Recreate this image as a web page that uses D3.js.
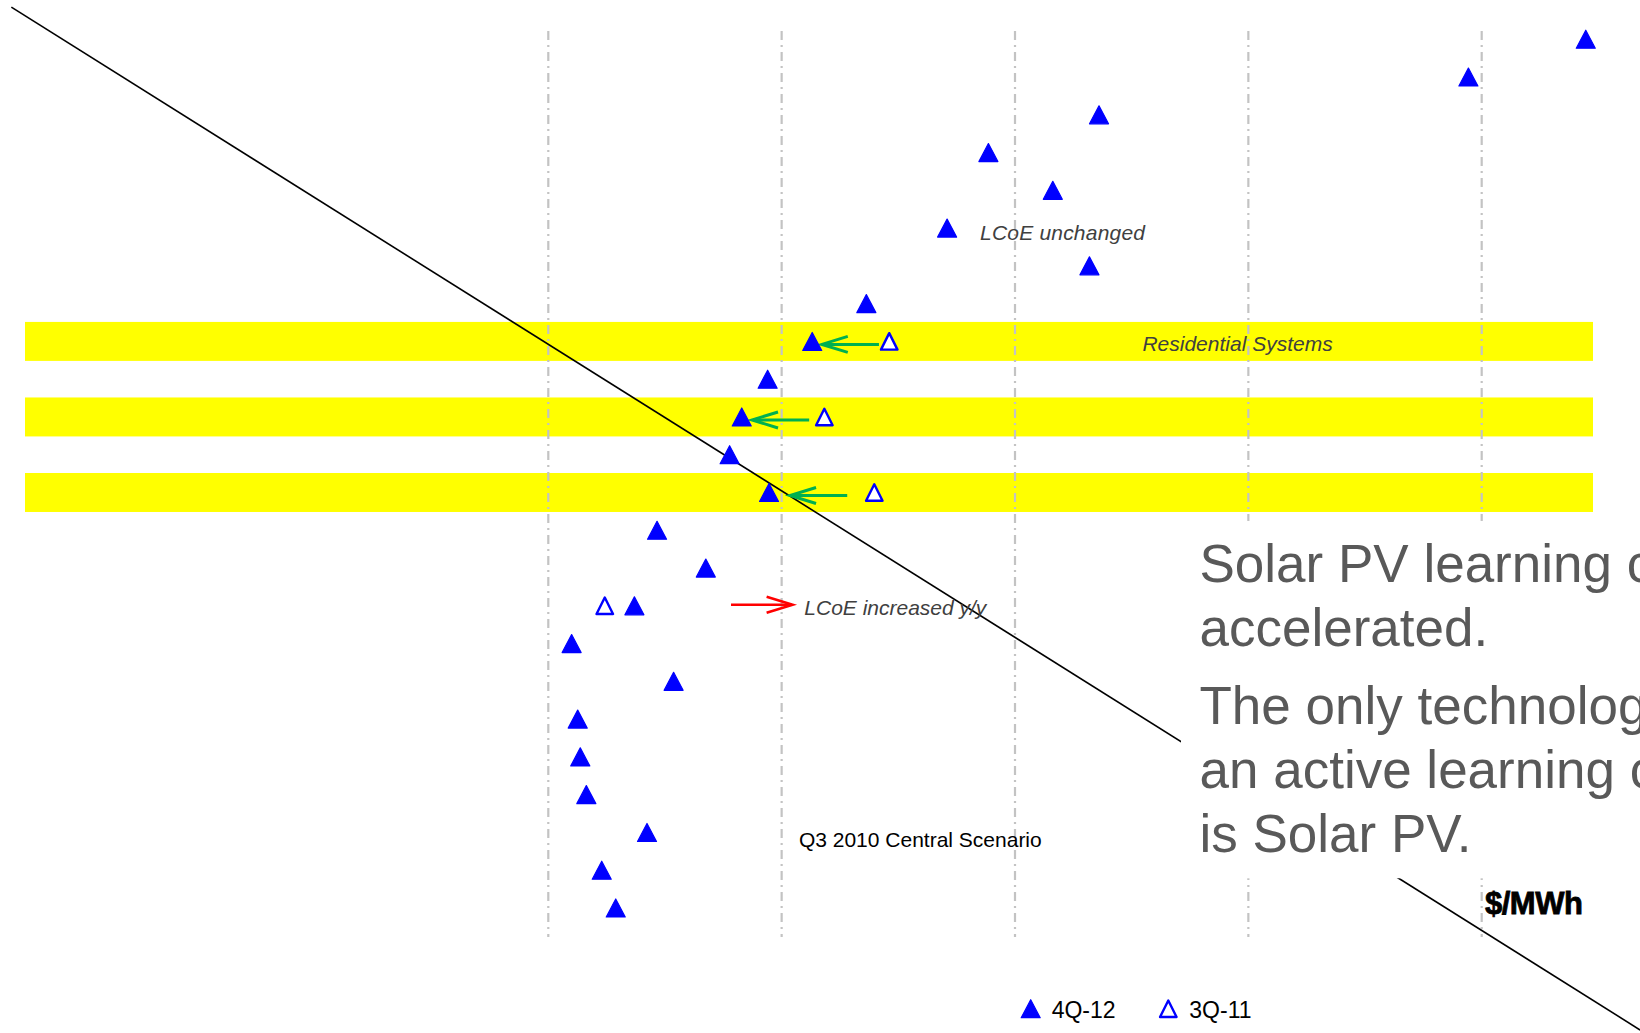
<!DOCTYPE html>
<html>
<head>
<meta charset="utf-8">
<script src="https://cdn.jsdelivr.net/npm/d3@7"></script>
<style>
  html, body { margin: 0; padding: 0; background: #fff; }
  svg { display: block; }
</style>
</head>
<body>
<svg id="chart" width="1640" height="1033"></svg>
<script>
// ---- data -------------------------------------------------------------
// One key per technology row, top to bottom (row labels are not shown)
const rows = ["1","2","3","4","5","6","7","8","9","10","11","12",
              "13","14","15","16","17","18","19","20","21","22","23","24"];

// Levelised cost of energy, 4Q-12 ($/MWh), one value per row
const lcoe4Q12 = [444.6, 394.3, 236.0, 188.6, 216.2, 170.9, 231.9, 136.3,
                  113.1, 94.0, 82.9, 77.7, 94.6, 46.6, 67.5, 36.9,
                  10.0, 53.7, 12.6, 13.7, 16.3, 42.3, 22.9, 28.9];

// Earlier 3Q-11 estimates, only for rows that moved
const prevRows = ["9", "11", "13", "16"];
const lcoe3Q11 = [146.1, 118.3, 139.7, 24.2];

// Rows highlighted as residential systems
const highlightRows = ["9", "11", "13"];

// Change arrows: row, from value, to value
const shiftRows  = ["9", "11", "13"];
const shiftFrom  = [141.7, 111.8, 128.1];
const shiftTo    = [117.2, 87.3, 103.6];
const riseRow = "16", riseFrom = 78.3, riseTo = 104.7;

// Q3 2010 central scenario line: [value, row position]
const centralScenario = [[-230.1, -0.85], [467.9, 26.23]];

const gridTicks = [0, 100, 200, 300, 400];
const legendLabels = ["4Q-12", "3Q-11"];

const noteLines = [
  ["Solar PV learning curve has", "accelerated."],
  ["The only technology with", "an active learning curve", "is Solar PV."]
];

// ---- layout -----------------------------------------------------------
const W = 1640, H = 1033;
const svg = d3.select("#chart");
const FONT = "'Liberation Sans', Arial, Helvetica, sans-serif";

const x = d3.scaleLinear().domain([0, 400]).range([548.3, 1481.7]);
const y = d3.scalePoint().domain(rows).range([39.25, 907.96]);
const rowPos = d3.scaleLinear().domain([0, rows.length - 1]).range([39.25, 907.96]);
const step = y.step();

const bandLeft = 25, bandRight = 1593;
const gridTop = 31, gridBottom = 937;

svg.append("rect").attr("width", W).attr("height", H).attr("fill", "#fff");

// highlight bands
svg.append("g").selectAll("rect").data(highlightRows).join("rect")
  .attr("x", bandLeft)
  .attr("y", d => y(d) - step / 2 - 0.6)
  .attr("width", bandRight - bandLeft)
  .attr("height", step + 1.2)
  .attr("fill", "#ffff00");

// vertical dash-dot gridlines
svg.append("g").selectAll("line").data(gridTicks).join("line")
  .attr("x1", d => x(d)).attr("x2", d => x(d))
  .attr("y1", gridTop).attr("y2", gridBottom)
  .attr("stroke", "#c3c3c3")
  .attr("stroke-width", 2.2)
  .attr("stroke-dasharray", "9,5,2,5");

// central scenario line
svg.append("path")
  .datum(centralScenario)
  .attr("d", d3.line().x(d => x(d[0])).y(d => rowPos(d[1])))
  .attr("fill", "none")
  .attr("stroke", "#000")
  .attr("stroke-width", 1.6);

// arrows
function arrow(g, x1, x2, yy, color, sw) {
  const dir = Math.sign(x2 - x1);
  g.append("line")
    .attr("x1", x1).attr("x2", x2 - dir * 1).attr("y1", yy).attr("y2", yy)
    .attr("stroke", color).attr("stroke-width", sw);
  g.append("path")
    .attr("d", `M${x2 - dir * 26},${yy - 8}L${x2},${yy}L${x2 - dir * 26},${yy + 8}`)
    .attr("fill", "none").attr("stroke", color).attr("stroke-width", sw)
    .attr("stroke-linejoin", "miter");
}
const arrows = svg.append("g");
shiftRows.forEach((r, i) => arrow(arrows, x(shiftFrom[i]), x(shiftTo[i]), y(r) + 3, "#00b050", 3));
arrow(arrows, x(riseFrom), x(riseTo), y(riseRow) - 1, "#ff0000", 2.6);

// triangle marker path centred on (cx, cy)
function tri(cx, cy, w, h) {
  return `M${cx},${cy - h / 2}L${cx + w / 2},${cy + h / 2}L${cx - w / 2},${cy + h / 2}Z`;
}

// 3Q-11 (open)
svg.append("g").selectAll("path").data(prevRows).join("path")
  .attr("d", (r, i) => tri(x(lcoe3Q11[i]), y(r), 16.5, 16.5))
  .attr("fill", "#fff")
  .attr("stroke", "#0000ff")
  .attr("stroke-width", 2.4)
  .attr("stroke-linejoin", "round");

// 4Q-12 (filled)
svg.append("g").selectAll("path").data(rows).join("path")
  .attr("d", (r, i) => tri(x(lcoe4Q12[i]), y(r), 19, 18))
  .attr("fill", "#0000ff")
  .attr("stroke", "#0000ff")
  .attr("stroke-width", 1.2)
  .attr("stroke-linejoin", "round");

// annotations
const notes = [
  { text: "LCoE unchanged", row: "6", value: 185.0, dy: 12, italic: true, len: 165 },
  { text: "Residential Systems", row: "9", value: 254.6, dy: 10, italic: true },
  { text: "LCoE increased y/y", row: "16", value: 109.7, dy: 9, italic: true },
  { text: "Q3 2010 Central Scenario", row: "22", value: 107.4, dy: 15, italic: false }
];
svg.append("g").selectAll("text").data(notes).join("text")
  .attr("x", d => x(d.value))
  .attr("y", d => y(d.row) + d.dy)
  .attr("font-family", FONT)
  .attr("font-size", 21)
  .attr("font-style", d => d.italic ? "italic" : "normal")
  .attr("fill", d => d.italic ? "#404040" : "#000")
  .each(function (d) { if (d.len) d3.select(this).attr("textLength", d.len).attr("lengthAdjust", "spacing"); })
  .text(d => d.text);

// message box covering the lower right
const box = { x: 1181, y: 521, bottom: 878.3 };
svg.append("defs").append("clipPath").attr("id", "boxClip")
  .append("rect").attr("x", box.x).attr("y", box.y)
  .attr("width", W - box.x).attr("height", box.bottom - box.y);
svg.append("rect")
  .attr("x", box.x).attr("y", box.y)
  .attr("width", W - box.x).attr("height", box.bottom - box.y)
  .attr("fill", "#fff");
const noteG = svg.append("g").attr("clip-path", "url(#boxClip)");
const baselines = [582, 646, 724, 788.3, 851.7];
let k = 0;
noteLines.forEach(par => par.forEach(line => {
  noteG.append("text")
    .attr("x", 1199.5).attr("y", baselines[k++])
    .attr("font-family", FONT)
    .attr("font-size", 53)
    .attr("fill", "#595959")
    .text(line);
}));

// unit label
svg.append("text")
  .attr("x", x(401.4)).attr("y", y("24") + 6)
  .attr("font-family", FONT)
  .attr("font-size", 31)
  .attr("font-weight", "bold")
  .attr("fill", "#000").attr("stroke", "#000").attr("stroke-width", 0.8)
  .attr("letter-spacing", -0.5)
  .text("$/MWh");

// legend
const legend = svg.append("g");
const legendX = [1030.7, 1168.3], legendY = 1008.7;
legendLabels.forEach((lab, i) => {
  legend.append("path")
    .attr("d", i === 0 ? tri(legendX[i], legendY, 19, 18) : tri(legendX[i], legendY, 16.5, 16.5))
    .attr("fill", i === 0 ? "#0000ff" : "#fff")
    .attr("stroke", "#0000ff")
    .attr("stroke-width", i === 0 ? 1.2 : 2.4)
    .attr("stroke-linejoin", "round");
  legend.append("text")
    .attr("x", legendX[i] + 21).attr("y", 1018.3)
    .attr("font-family", FONT)
    .attr("font-size", 23)
    .attr("fill", "#000")
    .text(lab);
});
</script>
</body>
</html>
